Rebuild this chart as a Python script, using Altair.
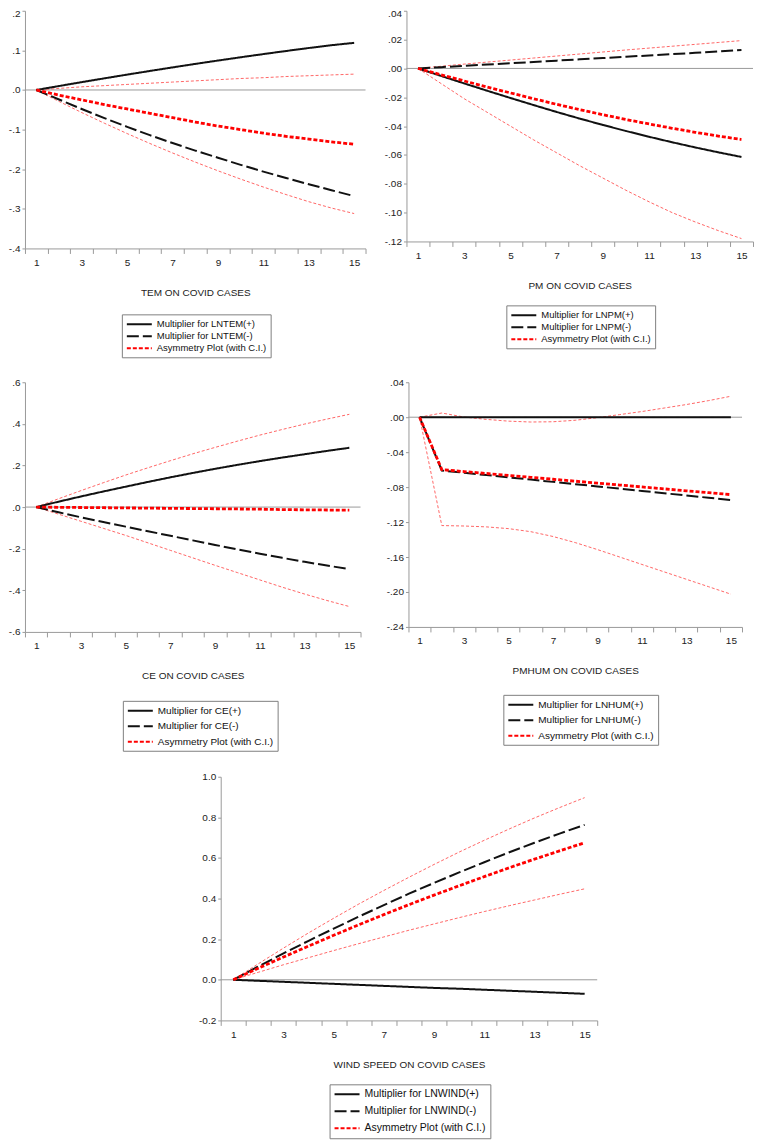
import altair as alt
import pandas as pd

STEPS = list(range(1, 16))
X_TICKS = [0.5, 1.5, 2.5, 3.5, 4.5, 5.5, 6.5, 7.5, 8.5, 9.5, 10.5, 11.5, 12.5, 13.5, 14.5, 15.5]
X_LABELS = [1, 3, 5, 7, 9, 11, 13, 15]
ASYM_NAME = "Asymmetry Plot (with C.I.)"

# Panel 1: TEM
TEM_POS = [0, .0100, .0198, .0294, .0388, .0480, .0570, .0658, .0743, .0826, .0906, .0984, .1060, .1130, .1190]
TEM_NEG = [0, -.024, -.048, -.071, -.093, -.114, -.134, -.153, -.171, -.189, -.206, -.222, -.238, -.253, -.268]
TEM_ASYM = [0, -.013, -.025, -.037, -.048, -.059, -.070, -.081, -.091, -.100, -.109, -.117, -.124, -.131, -.137]
TEM_UP = [0, .004, .008, .011, .014, .017, .020, .023, .026, .029, .031, .034, .036, .038, .040]
TEM_LO = [0, -.029, -.057, -.084, -.110, -.135, -.159, -.182, -.204, -.225, -.245, -.264, -.282, -.298, -.312]
TEM_Y = [-0.4, -0.3, -0.2, -0.1, 0.0, 0.1, 0.2]

# Panel 2: PM
PM_POS = [0, -.0052, -.0104, -.0155, -.0205, -.0254, -.0302, -.0348, -.0392, -.0434, -.0474, -.0512, -.0548, -.0582, -.0614]
PM_NEG = [0, .0009, .0018, .0027, .0036, .0045, .0054, .0063, .0072, .0081, .0090, .0099, .0108, .0118, .0128]
PM_ASYM = [0, -.0044, -.0087, -.0129, -.0170, -.0210, -.0249, -.0286, -.0321, -.0354, -.0385, -.0415, -.0443, -.0469, -.0493]
PM_UP = [0, .0015, .0030, .0044, .0058, .0072, .0086, .0100, .0114, .0128, .0141, .0154, .0167, .0180, .0193]
PM_LO = [0, -.0105, -.0210, -.0305, -.0400, -.0495, -.0585, -.0675, -.0760, -.0845, -.0925, -.1000, -.1065, -.1125, -.1180]
PM_Y = [-0.12, -0.10, -0.08, -0.06, -0.04, -0.02, 0.0, 0.02, 0.04]

# Panel 3: CE
CE_POS = [0, .026, .051, .075, .098, .121, .143, .164, .184, .203, .221, .238, .254, .270, .285]
CE_NEG = [0, -.025, -.049, -.072, -.094, -.116, -.138, -.160, -.182, -.203, -.224, -.244, -.263, -.281, -.298]
CE_ASYM = [0, -.001, -.002, -.003, -.004, -.005, -.006, -.007, -.008, -.009, -.010, -.012, -.013, -.014, -.015]
CE_UP = [0, .040, .079, .117, .154, .189, .223, .256, .287, .317, .346, .373, .399, .423, .446]
CE_LO = [0, -.034, -.068, -.102, -.136, -.172, -.208, -.244, -.280, -.315, -.350, -.385, -.418, -.449, -.478]
CE_Y = [-0.6, -0.4, -0.2, 0.0, 0.2, 0.4, 0.6]

# Panel 4: PMHUM
HUM_POS = [0, 0, 0, 0, 0, 0, 0, 0, 0, 0, 0, 0, 0, 0, 0]
HUM_NEG = [0, -.0610, -.0636, -.0662, -.0688, -.0714, -.0740, -.0766, -.0792, -.0818, -.0844, -.0870, -.0896, -.0922, -.0948]
HUM_ASYM = [0, -.0600, -.0622, -.0644, -.0666, -.0688, -.0710, -.0732, -.0754, -.0776, -.0798, -.0820, -.0842, -.0864, -.0886]
HUM_UP = [0, .0048, .0002, -.0025, -.0045, -.0055, -.0052, -.0035, -.0005, .0030, .0065, .0105, .0145, .0190, .0240]
HUM_LO = [0, -.1240, -.1245, -.1255, -.1275, -.1310, -.1365, -.1435, -.1515, -.1600, -.1685, -.1770, -.1855, -.1940, -.2025]
HUM_Y = [-0.24, -0.20, -0.16, -0.12, -0.08, -0.04, 0.0, 0.04]

# Panel 5: WIND SPEED
WIND_POS = [0, -.005, -.010, -.015, -.020, -.025, -.030, -.035, -.040, -.044, -.049, -.054, -.059, -.064, -.069]
WIND_NEG = [0, .066, .130, .192, .252, .311, .368, .424, .477, .529, .579, .628, .675, .720, .763]
WIND_ASYM = [0, .057, .112, .166, .219, .271, .321, .370, .417, .463, .508, .552, .594, .635, .675]
WIND_UP = [0, .079, .156, .231, .303, .373, .440, .505, .568, .629, .687, .743, .797, .848, .897]
WIND_LO = [0, .037, .074, .109, .144, .178, .211, .244, .275, .306, .336, .365, .393, .421, .448]
WIND_Y = [-0.2, 0.0, 0.2, 0.4, 0.6, 0.8, 1.0]

FONT = "Liberation Sans"
AXIS_GRAY = "#9a9a9a"
TEXT = "#222222"
LEGEND_SYMBOL = "M-1,0H4"


def panel(pos_name, neg_name, pos, neg, asym, up, lo, title, yvals, yfmt, strip,
          w, h, lx, ly, lfs, lrp, tight_top=False):
    main = pd.DataFrame({"x": STEPS * 2, "v": pos + neg,
                         "s": [pos_name] * 15 + [neg_name] * 15})
    asy = pd.DataFrame({"x": STEPS, "v": asym, "s": [ASYM_NAME] * 15})
    ci = pd.DataFrame({"x": STEPS * 2, "v": up + lo, "b": ["up"] * 15 + ["lo"] * 15})
    zero = pd.DataFrame({"v": [0.0]})
    dom = [pos_name, neg_name, ASYM_NAME]

    if strip:
        lab = f"(datum.value < 0 ? '-' : '') + replace(format(abs(datum.value), '{yfmt}'), '0.', '.')"
    else:
        lab = f"(datum.value < 0 ? '-' : '') + format(abs(datum.value), '{yfmt}')"

    xaxis = alt.Axis(
        values=sorted(X_TICKS + X_LABELS),
        labelExpr="datum.value % 2 == 1 ? format(datum.value, 'd') : ''",
        tickOpacity={"condition": {"test": "datum.value % 1 != 0", "value": 1}, "value": 0},
        tickSize=5, tickColor=AXIS_GRAY, domainColor=AXIS_GRAY, grid=False,
        labelOverlap=False, labelFlush=False, labelPadding=4, labelFontSize=10,
        labelFont=FONT, labelColor=TEXT, titleFont=FONT, titleFontSize=10,
        titleFontWeight="normal", titleColor=TEXT, titlePadding=20,
    )
    yextra = {}
    if tight_top:
        test = f"datum.value >= {yvals[-1] - 1e-9}"
        yextra = dict(
            labelBaseline={"condition": {"test": test, "value": "top"}, "value": "middle"},
            labelOffset={"condition": {"test": test, "value": -2}, "value": 0},
        )
    yaxis = alt.Axis(
        values=yvals, labelExpr=lab, tickSize=3, tickColor=AXIS_GRAY,
        domainColor=AXIS_GRAY, grid=False, labelPadding=2, labelFontSize=10,
        labelFont=FONT, labelColor=TEXT, **yextra,
    )
    xs = alt.Scale(domain=[0.5, 15.5], nice=False, zero=False)
    ys = alt.Scale(domain=[yvals[0], yvals[-1]], nice=False, zero=False)
    xenc = alt.X("x:Q", scale=xs, axis=xaxis, title=title)
    yenc = alt.Y("v:Q", scale=ys, axis=yaxis, title=None)

    legend = alt.Legend(
        title=None, orient="none", legendX=lx, legendY=ly, direction="vertical",
        strokeColor="#808080", fillColor="white", padding=4, labelFont=FONT,
        labelFontSize=lfs, labelColor="#111111", rowPadding=lrp, symbolSize=100,
        symbolStrokeWidth=2, symbolType=LEGEND_SYMBOL, labelOffset=19, labelLimit=300,
    )
    color = alt.Color("s:N", scale=alt.Scale(domain=dom, range=["#111111", "#111111", "#ff0000"]),
                      legend=legend)
    dash = alt.StrokeDash("s:N", scale=alt.Scale(domain=dom, range=[[1, 0], [12, 4], [4, 2]]),
                          legend=legend)

    zline = alt.Chart(zero).mark_rule(color=AXIS_GRAY, strokeWidth=1).encode(y=yenc)
    ci_l = alt.Chart(ci).mark_line(color="#ff4040", strokeWidth=0.8, strokeDash=[3, 2]).encode(
        x=xenc, y=yenc, detail="b:N")
    main_l = alt.Chart(main).mark_line(strokeWidth=2).encode(
        x=xenc, y=yenc, color=color, strokeDash=dash)
    asy_l = alt.Chart(asy).mark_line(strokeWidth=2.8).encode(
        x=xenc, y=yenc, color=color, strokeDash=dash)
    return alt.layer(zline, ci_l, main_l, asy_l).properties(width=w, height=h)


p1 = panel("Multiplier for LNTEM(+)", "Multiplier for LNTEM(-)", TEM_POS, TEM_NEG, TEM_ASYM,
           TEM_UP, TEM_LO, "TEM ON COVID CASES", TEM_Y, ".1f", True,
           341, 238, 97, 304, 9.5, 1, tight_top=True)
p2 = panel("Multiplier for LNPM(+)", "Multiplier for LNPM(-)", PM_POS, PM_NEG, PM_ASYM,
           PM_UP, PM_LO, "PM ON COVID CASES", PM_Y, ".2f", True,
           347, 231, 100, 295, 9.5, 1, tight_top=True)
p3 = panel("Multiplier for CE(+)", "Multiplier for CE(-)", CE_POS, CE_NEG, CE_ASYM,
           CE_UP, CE_LO, "CE ON COVID CASES", CE_Y, ".1f", True,
           336, 250, 98, 319, 10, 4.5)
p4 = panel("Multiplier for LNHUM(+)", "Multiplier for LNHUM(-)", HUM_POS, HUM_NEG, HUM_ASYM,
           HUM_UP, HUM_LO, "PMHUM ON COVID CASES", HUM_Y, ".2f", True,
           334, 245, 95, 313, 10, 4.5)
p5 = panel("Multiplier for LNWIND(+)", "Multiplier for LNWIND(-)", WIND_POS, WIND_NEG, WIND_ASYM,
           WIND_UP, WIND_LO, "WIND SPEED ON COVID CASES", WIND_Y, ".1f", False,
           377, 244, 109, 308, 10.5, 5)

spacer = alt.Chart(pd.DataFrame({"s": [0]})).mark_point(opacity=0).encode(
    x=alt.X("s:Q", axis=None), y=alt.Y("s:Q", axis=None)).properties(width=163, height=10)


def indep(c):
    return c.resolve_scale(x="independent", y="independent", color="independent",
                           strokeDash="independent").resolve_legend(
        color="independent", strokeDash="independent")


row1 = indep(alt.hconcat(p1, p2, spacing=17))
row2 = indep(alt.hconcat(p3, p4, spacing=24))
row3 = indep(alt.hconcat(spacer, p5, spacing=10))
top = indep(alt.vconcat(row1, row2, spacing=19))
chart = indep(alt.vconcat(top, row3, spacing=20)).properties(padding=0)
chart = chart.configure(font=FONT).configure_view(strokeWidth=0)

chart.save("out.html", embed_options={"renderer": "svg", "actions": False})
